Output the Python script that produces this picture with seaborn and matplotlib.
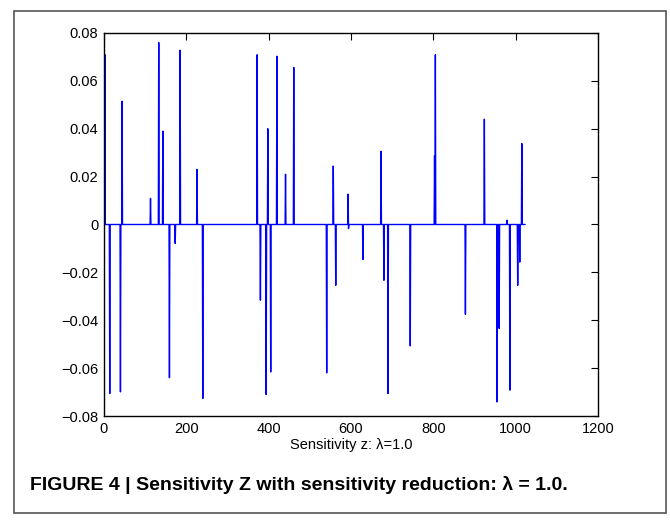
import numpy as np
import pandas as pd
import matplotlib
matplotlib.use("Agg")
import matplotlib.pyplot as plt
import seaborn as sns
from matplotlib.patches import Rectangle

# signal length and non-zero entries
n_samples = 1024
spike_idx = [2, 14, 40, 44, 113, 133, 143, 159, 173, 185, 226, 240,
             372, 380, 394, 398, 405, 420, 441, 461, 541, 557, 563, 593,
             594, 629, 673, 680, 690, 744, 803, 805, 878, 924, 955, 960,
             979, 986, 1005, 1010, 1015]
spike_val = [0.071, -0.0706, -0.0699, 0.0515, 0.0109, 0.076, 0.039, -0.064,
             -0.0079, 0.0728, 0.023, -0.0727,
             0.0709, -0.0316, -0.071, 0.040, -0.0616, 0.0703, 0.021, 0.0656,
             -0.062, 0.0244, -0.0254, 0.0127,
             -0.0017, -0.0146, 0.0306, -0.0233, -0.0706, -0.0507, 0.0287,
             0.0709, -0.0375, 0.044, -0.0741, -0.0434,
             0.0018, -0.0692, -0.0254, -0.0157, 0.0338]

z = np.zeros(n_samples)
z[spike_idx] = spike_val
df = pd.DataFrame({"i": np.arange(n_samples), "z": z})

sns.set_style("white")
plt.rcParams["font.family"] = ["Liberation Sans", "DejaVu Sans"]
plt.rcParams["text.color"] = "black"

fig = plt.figure(figsize=(6.7, 5.21), dpi=100)
ax = fig.add_axes([0.1552, 0.2015, 0.7373, 0.7352])

sns.lineplot(data=df, x="i", y="z", color="#0000ff", linewidth=1.0,
             estimator=None, ax=ax)

ax.set_xlim(0, 1200)
ax.set_ylim(-0.08, 0.08)
ax.set_xticks(np.arange(0, 1201, 200))
yt = np.round(np.arange(-0.08, 0.081, 0.02), 2)
ax.set_yticks(yt)
ax.set_yticklabels([("%g" % v).replace("-", "\u2212") for v in yt])
ax.tick_params(direction="in", length=5, width=0.8, labelsize=10.5,
               top=True, right=True, colors="black", labelcolor="black", pad=4)
for s in ax.spines.values():
    s.set_visible(True)
    s.set_color("black")
    s.set_linewidth(1.0)
ax.set_xlabel("Sensitivity z: λ=1.0", fontsize=10.5, labelpad=2, color="black")
ax.set_ylabel("")

# outer frame and caption
fig.patches.append(Rectangle((14 / 670, 1 - 513 / 521), 652 / 670, 502 / 521,
                             transform=fig.transFigure, fill=False,
                             edgecolor="#555555", linewidth=1.2))
fig.text(0.045, 0.069, "FIGURE 4 | Sensitivity Z with sensitivity reduction: λ = 1.0.",
         fontsize=14, fontweight="bold", va="center", ha="left", color="black",
         family=["Liberation Sans Narrow", "Liberation Sans", "DejaVu Sans"])

fig.savefig("out.png", dpi=100)
